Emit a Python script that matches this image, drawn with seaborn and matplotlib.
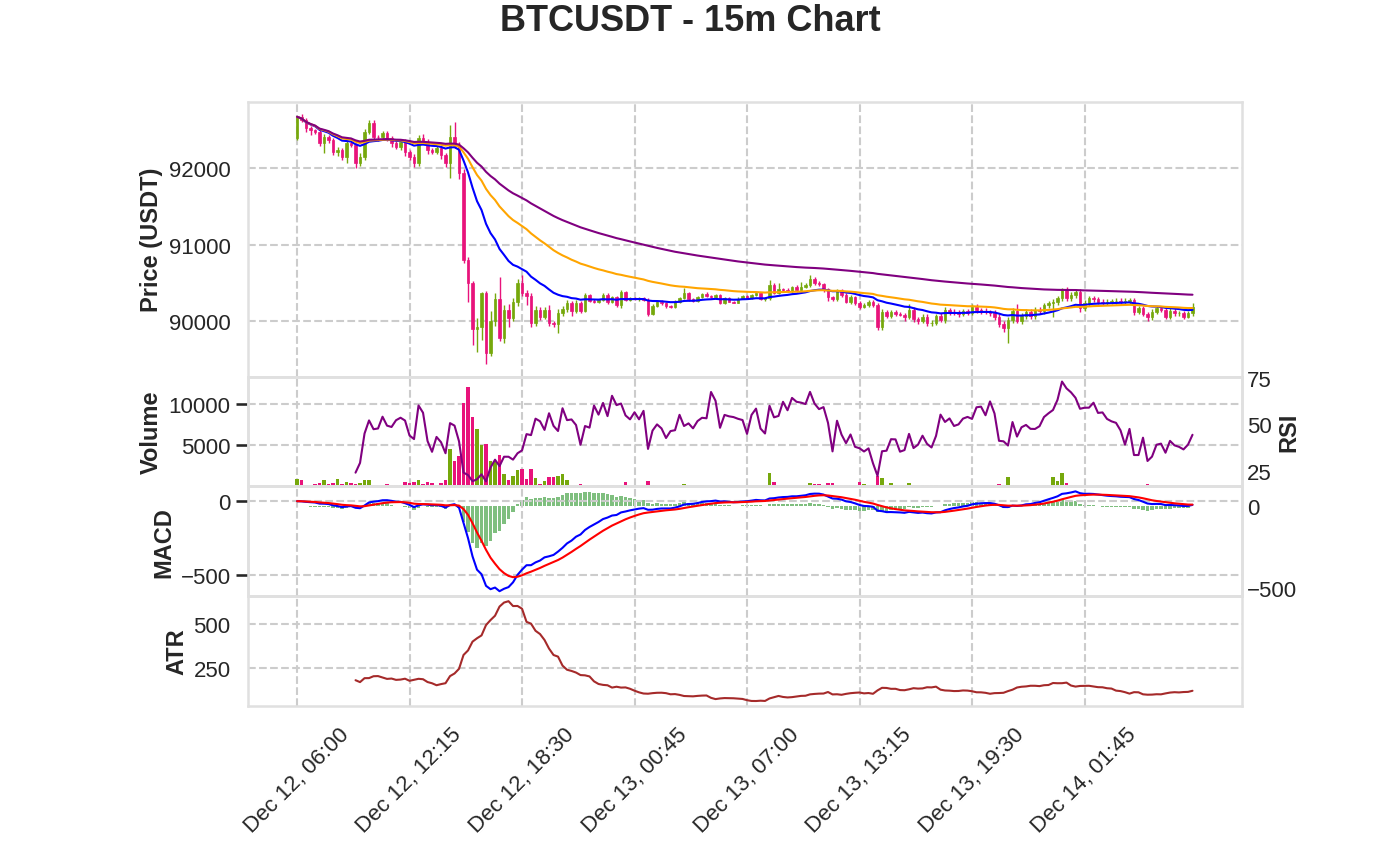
import numpy as np
import pandas as pd
import matplotlib
matplotlib.use("Agg")
import matplotlib.pyplot as plt
from matplotlib.ticker import MultipleLocator
import seaborn as sns

# --- data (15m candles, open = previous close) ---
symbol = "BTCUSDT"
interval = "15m"
start_time = "2025-12-12 06:00"
first_open = 92388

closes = [
    92671, 92627, 92518, 92497, 92475, 92322, 92409, 92366, 92213, 92235,
    92148, 92322, 92301, 92061, 92148, 92475, 92584, 92409, 92401, 92453,
    92388, 92322, 92279, 92344, 92213, 92148, 92061, 92388, 92344, 92235,
    92213, 92257, 92170, 92061, 92409, 92301, 91930, 90797, 90492, 89890,
    89917, 90370, 89586, 90005, 90288, 89773, 90144, 90035, 90252, 90492,
    90370, 90327, 89969, 90144, 90057, 90144, 89969, 89960, 90100, 90152,
    90231, 90135, 90240, 90135, 90340, 90266, 90253, 90275, 90340, 90253,
    90310, 90209, 90375, 90275, 90297, 90283, 90297, 90275, 90092, 90201,
    90253, 90231, 90196, 90188, 90253, 90297, 90362, 90283, 90266, 90310,
    90353, 90327, 90310, 90340, 90231, 90297, 90253, 90240, 90292, 90327,
    90301, 90340, 90362, 90283, 90297, 90471, 90371, 90414, 90405, 90397,
    90440, 90405, 90449, 90471, 90549, 90501, 90480, 90414, 90310, 90283,
    90397, 90340, 90253, 90310, 90240, 90188, 90209, 90253, 90209, 89917,
    90122, 90066, 90122, 90092, 90079, 90048, 90144, 90022, 90005, 90057,
    89970, 89978, 90066, 90013, 90144, 90118, 90109, 90092, 90127, 90109,
    90188, 90144, 90131, 90118, 90105, 90048, 89961, 89904, 90013, 90135,
    90005, 90066, 90122, 90066, 90144, 90127, 90205, 90231, 90253, 90297,
    90405, 90297, 90340, 90384, 90166, 90240, 90297, 90283, 90253, 90240,
    90253, 90257, 90266, 90249, 90262, 90270, 90122, 90166, 90092, 90048,
    90122, 90166, 90144, 90057, 90135, 90100, 90100, 90057, 90100, 90179,
]

# wick lengths above / below the candle body (USDT)
upper_wicks = [
    15, 30, 25, 35, 20, 40, 35, 30, 25, 40,
    30, 40, 35, 30, 45, 40, 45, 50, 30, 35,
    35, 30, 40, 30, 35, 25, 30, 40, 55, 30,
    30, 35, 40, 30, 150, 195, 40, 60, 40, 30,
    118, 10, 20, 126, 83, 290, 60, 78, 50, 60,
    109, 30, 40, 50, 40, 45, 60, 30, 50, 40,
    45, 35, 40, 20, 25, 15, 20, 15, 25, 20,
    15, 20, 25, 20, 15, 20, 15, 20, 25, 20,
    15, 20, 15, 15, 20, 20, 65, 20, 15, 20,
    15, 20, 15, 10, 15, 10, 10, 10, 15, 10,
    10, 10, 10, 15, 20, 65, 25, 87, 20, 25,
    20, 25, 65, 25, 52, 20, 25, 20, 20, 20,
    25, 20, 20, 25, 20, 25, 20, 25, 20, 30,
    30, 25, 20, 20, 25, 20, 78, 40, 30, 35,
    30, 35, 30, 40, 35, 30, 35, 30, 35, 30,
    40, 35, 30, 35, 30, 35, 40, 40, 35, 40,
    83, 40, 35, 40, 35, 40, 35, 35, 40, 30,
    22, 40, 35, 40, 35, 40, 35, 35, 30, 35,
    30, 35, 30, 30, 35, 30, 35, 30, 35, 30,
    35, 30, 35, 30, 35, 30, 25, 30, 25, 52,
]
lower_wicks = [
    20, 25, 45, 60, 30, 35, 120, 35, 45, 50,
    40, 87, 30, 60, 35, 45, 30, 40, 45, 30,
    30, 40, 35, 40, 60, 45, 50, 40, 35, 50,
    35, 30, 45, 50, 195, 40, 78, 40, 240, 200,
    290, 170, 150, 40, 65, 30, 60, 110, 40, 50,
    40, 118, 45, 40, 50, 30, 40, 35, 113, 30,
    40, 70, 35, 25, 20, 15, 20, 20, 15, 25,
    20, 20, 44, 15, 20, 15, 20, 15, 26, 20,
    15, 20, 20, 20, 22, 15, 15, 20, 15, 20,
    15, 20, 15, 10, 10, 15, 10, 10, 10, 10,
    10, 10, 10, 15, 20, 25, 20, 20, 25, 20,
    25, 20, 20, 20, 25, 25, 20, 30, 52, 25,
    20, 30, 20, 25, 30, 25, 20, 25, 30, 40,
    35, 25, 30, 25, 20, 44, 25, 35, 40, 30,
    35, 40, 35, 30, 40, 35, 30, 35, 30, 35,
    30, 35, 40, 30, 35, 40, 35, 45, 196, 40,
    35, 40, 35, 40, 35, 30, 40, 35, 174, 40,
    35, 40, 30, 35, 45, 35, 40, 30, 35, 30,
    35, 30, 35, 30, 30, 35, 40, 35, 30, 44,
    30, 35, 30, 35, 30, 35, 30, 35, 22, 30,
]

volumes = [
    900, 780, 200, 120, 290, 400, 780, 330, 490, 900,
    330, 530, 400, 360, 400, 780, 780, 200, 200, 200,
    330, 250, 200, 160, 570, 490, 570, 780, 360, 570,
    400, 200, 400, 780, 4520, 3050, 3660, 10085, 12120, 8460,
    6955, 5000, 5210, 3050, 3050, 3785, 1550, 860, 1340, 1955,
    2075, 940, 2075, 1060, 330, 740, 1140, 1140, 1340, 1470,
    860, 200, 150, 290, 120, 110, 130, 150, 200, 250,
    140, 120, 180, 570, 130, 110, 120, 150, 700, 200,
    130, 120, 110, 250, 140, 120, 330, 150, 120, 110,
    200, 130, 110, 120, 100, 110, 130, 120, 100, 110,
    120, 130, 110, 100, 150, 1630, 570, 200, 130, 120,
    110, 120, 130, 140, 450, 300, 330, 200, 450, 450,
    250, 180, 250, 160, 200, 570, 300, 160, 220, 1340,
    1100, 200, 450, 160, 130, 200, 450, 180, 250, 150,
    250, 140, 250, 120, 130, 110, 120, 130, 110, 100,
    120, 110, 100, 110, 120, 130, 330, 200, 1140, 250,
    250, 150, 130, 200, 120, 110, 140, 160, 1140, 740,
    1630, 490, 200, 150, 250, 130, 120, 110, 250, 140,
    120, 110, 100, 110, 120, 130, 150, 140, 250, 300,
    180, 250, 140, 150, 130, 120, 110, 130, 120, 160,
]

ema_spans = [20, 50, 200]
ema_colors = ["blue", "orange", "purple"]
up_color = "#76a80c"
down_color = "#e8137b"

# --- build frame + indicators ---
df = pd.DataFrame({"close": closes, "volume": volumes},
                  index=pd.date_range(start_time, periods=len(closes), freq="15min"))
df["open"] = df["close"].shift(1).fillna(first_open)
body_top = df[["open", "close"]].max(axis=1)
body_bot = df[["open", "close"]].min(axis=1)
df["high"] = body_top + np.array(upper_wicks)
df["low"] = body_bot - np.array(lower_wicks)

for span in ema_spans:
    df[f"ema{span}"] = df["close"].ewm(span=span).mean()

delta = df["close"].diff()
gain = delta.where(delta > 0, 0).rolling(14).mean()
loss = -delta.where(delta < 0, 0).rolling(14).mean()
df["rsi"] = 100 - 100 / (1 + gain / loss)

ema12 = df["close"].ewm(span=12).mean()
ema26 = df["close"].ewm(span=26).mean()
df["macd"] = ema12 - ema26
df["signal"] = df["macd"].ewm(span=9).mean()
df["hist"] = df["macd"] - df["signal"]

prev_close = df["close"].shift(1)
tr = pd.concat([df["high"] - df["low"],
                (df["high"] - prev_close).abs(),
                (df["low"] - prev_close).abs()], axis=1).max(axis=1)
df["atr"] = tr.rolling(14).mean()

x = np.arange(len(df))
colors = np.where(df["close"] >= df["open"], up_color, down_color)

# --- plot ---
sns.set_theme(style="whitegrid", context="talk")
plt.rcParams["font.family"] = ["Liberation Sans", "DejaVu Sans"]
plt.rcParams["xtick.labelsize"] = 16
plt.rcParams["ytick.labelsize"] = 16

fig, (ax_p, ax_v, ax_m, ax_a) = plt.subplots(
    4, 1, figsize=(13.8, 8.62), dpi=100, sharex=True,
    gridspec_kw={"height_ratios": [2.5, 1, 1, 1], "hspace": 0})
fig.subplots_adjust(left=0.1797, right=0.9, top=0.8805, bottom=0.1798)

# candles
ax_p.vlines(x, df["low"], df["high"], colors=colors, linewidth=1, zorder=2)
ax_p.bar(x, body_top - body_bot, bottom=body_bot, width=0.65,
         color=colors, edgecolor=colors, linewidth=0.5, zorder=2)
for span, c in zip(ema_spans, ema_colors):
    sns.lineplot(x=x, y=df[f"ema{span}"].values, ax=ax_p, color=c, linewidth=1.5, zorder=3)
lo, hi = df["low"].min(), df["high"].max()
pad = 0.05 * (hi - lo)
ax_p.set_ylim(lo - pad, hi + pad)
ax_p.yaxis.set_major_locator(MultipleLocator(1000))
ax_p.set_ylabel("Price (USDT)", fontsize=17, fontweight="bold")

# volume + RSI
ax_v.bar(x, df["volume"], width=0.8, color=colors, edgecolor="none", linewidth=0)
ax_v.set_ylim(0.3 * df["volume"].min(), 1.1 * df["volume"].max())
ax_v.yaxis.set_major_locator(MultipleLocator(5000))
ax_v.set_ylabel("Volume", fontsize=17, fontweight="bold")
ax_r = ax_v.twinx()
sns.lineplot(x=x, y=df["rsi"].values, ax=ax_r, color="purple", linewidth=1.5)
ax_r.yaxis.set_major_locator(MultipleLocator(25))
ax_r.set_ylabel("RSI", fontsize=17, fontweight="bold")
ax_r.grid(False)

# MACD
ax_h = ax_m.twinx()
ax_h.bar(x, df["hist"], width=0.75, color="green", alpha=0.5, edgecolor="none", linewidth=0)
ax_h.set_ylim(-548, 120)
ax_h.yaxis.set_major_locator(MultipleLocator(500))
ax_h.grid(False)
sns.lineplot(x=x, y=df["macd"].values, ax=ax_m, color="blue", linewidth=1.5)
sns.lineplot(x=x, y=df["signal"].values, ax=ax_m, color="red", linewidth=1.5)
ax_m.set_zorder(ax_h.get_zorder() + 1)
ax_m.patch.set_visible(False)
ax_m.yaxis.set_major_locator(MultipleLocator(500))
ax_m.set_ylabel("MACD", fontsize=17, fontweight="bold")

# ATR
sns.lineplot(x=x, y=df["atr"].values, ax=ax_a, color="brown", linewidth=1.5)
ax_a.yaxis.set_major_locator(MultipleLocator(250))
ax_a.set_ylabel("ATR", fontsize=17, fontweight="bold")

tick_pos = list(range(0, len(df), 25))
ax_a.set_xticks(tick_pos)
ax_a.set_xticklabels(df.index[tick_pos].strftime("%b %d, %H:%M"), rotation=45)
ax_a.set_xlim(-10.9, 210)

for ax in (ax_p, ax_v, ax_m, ax_a):
    ax.grid(True, linestyle="--", color="#cccccc", linewidth=1.5)
for ax in (ax_r, ax_h):
    ax.tick_params(axis="y", length=0)
for ax in (ax_p, ax_v, ax_r, ax_m, ax_h, ax_a):
    for s in ax.spines.values():
        s.set_color("#e0e0e0")
        s.set_linewidth(1.8)

fig.suptitle(f"{symbol} - {interval} Chart", fontsize=26, fontweight="bold",
             y=0.995, va="top")

fig.savefig("out.png", dpi=100)
